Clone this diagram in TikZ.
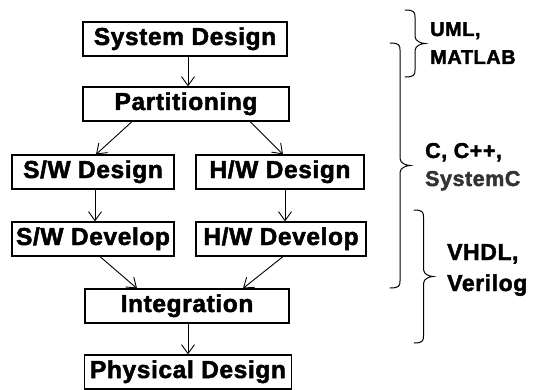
\documentclass[tikz,border=0pt]{standalone}
\usepackage{fontspec}
\setmainfont{Liberation Sans}[BoldFeatures={FakeBold=2,LetterSpace=2.5}]
\usetikzlibrary{arrows.meta}
% right-pointing curly brace: #1 x of the ends, #2 top y, #3 bottom y, #4 amplitude
\newcommand\toolbrace[4]{%
  \pgfmathsetmacro\bxs{#1+#4/2}%
  \pgfmathsetmacro\bxt{#1+#4}%
  \pgfmathsetmacro\bym{(#2+#3)/2}%
  \draw[bracestroke] (#1,#2) .. controls (\bxs-1,#2) and (\bxs,#2+2) .. (\bxs,#2+7)
    -- (\bxs,\bym-7) .. controls (\bxs,\bym-2) and (\bxt-3,\bym) .. (\bxt,\bym)
    .. controls (\bxt-3,\bym) and (\bxs,\bym+2) .. (\bxs,\bym+7)
    -- (\bxs,#3-7) .. controls (\bxs,#3-2) and (\bxs-1,#3) .. (#1,#3);}
\begin{document}
\begin{tikzpicture}[x=1pt,y=-1pt,
  stage/.style={draw, line width=1.2pt, minimum height=34pt, inner sep=0pt,
    text height=17pt, text depth=5pt, font=\fontsize{24.5}{28}\selectfont\bfseries},
  flow/.style={line width=0.9pt, -{Straight Barb[length=9pt,width=13pt,line width=0.9pt]}},
  tool/.style={anchor=base west, inner sep=0pt},
  bracestroke/.style={line width=1pt, line cap=round}]
\useasboundingbox (0,0) rectangle (545,390);

% design flow stages
\node[stage, minimum width=204pt] (sys)  at (185,39)  {System Design};
\node[stage, minimum width=206pt] (part) at (186,104) {Partitioning};
\node[stage, minimum width=162pt] (swd)  at (93,172)  {S/W Design};
\node[stage, minimum width=168pt] (hwd)  at (280,172) {H/W Design};
\node[stage, minimum width=162pt] (swv)  at (93,239)  {S/W Develop};
\node[stage, minimum width=170pt] (hwv)  at (281,239) {H/W Develop};
\node[stage, minimum width=204pt] (int)  at (187,306) {Integration};
\node[stage, minimum width=207pt] (phy)  at (188,372) {Physical Design};

% connectors
\draw[flow] ([xshift=3pt]sys.south) -- ([xshift=3pt]sys.south |- part.north);
\draw[flow] ([xshift=-54pt]part.south) -- ([xshift=3pt]swd.north);
\draw[flow] ([xshift=64pt]part.south) -- ([xshift=3pt]hwd.north);
\draw[flow] ([xshift=2pt]swd.south) -- ([xshift=2pt]swd.south |- swv.north);
\draw[flow] ([xshift=5pt]hwd.south) -- ([xshift=5pt]hwd.south |- hwv.north);
\draw[flow] ([xshift=7pt]swv.south) -- ([xshift=-50pt]int.north);
\draw[flow] ([xshift=2pt]hwv.south) -- ([xshift=56pt]int.north);
\draw[flow] ([xshift=1pt]int.south) -- ([xshift=1pt]int.south |- phy.north);

% language braces
\toolbrace{405}{10}{77}{20}
\toolbrace{390}{43}{288}{20}
\toolbrace{414}{210}{343}{19}

% languages
\node[tool, font=\fontsize{20}{24}\selectfont\bfseries] (uml) at (430,36) {UML,};
\node[tool, font=\fontsize{20}{24}\selectfont\bfseries] (matlab) at (430,64) {MATLAB};
\node[tool, font=\fontsize{21.5}{25}\selectfont\bfseries] (cpp) at (425,158) {C, C++,};
\node[tool, font=\fontsize{21.5}{25}\selectfont\bfseries, text=black!80] (sysc) at (425,186) {SystemC};
\node[tool, font=\fontsize{23}{27}\selectfont\bfseries] (vhdl) at (447,260) {VHDL,};
\node[tool, font=\fontsize{23}{27}\selectfont\bfseries] (verilog) at (447,291) {Verilog};
\end{tikzpicture}
\end{document}
